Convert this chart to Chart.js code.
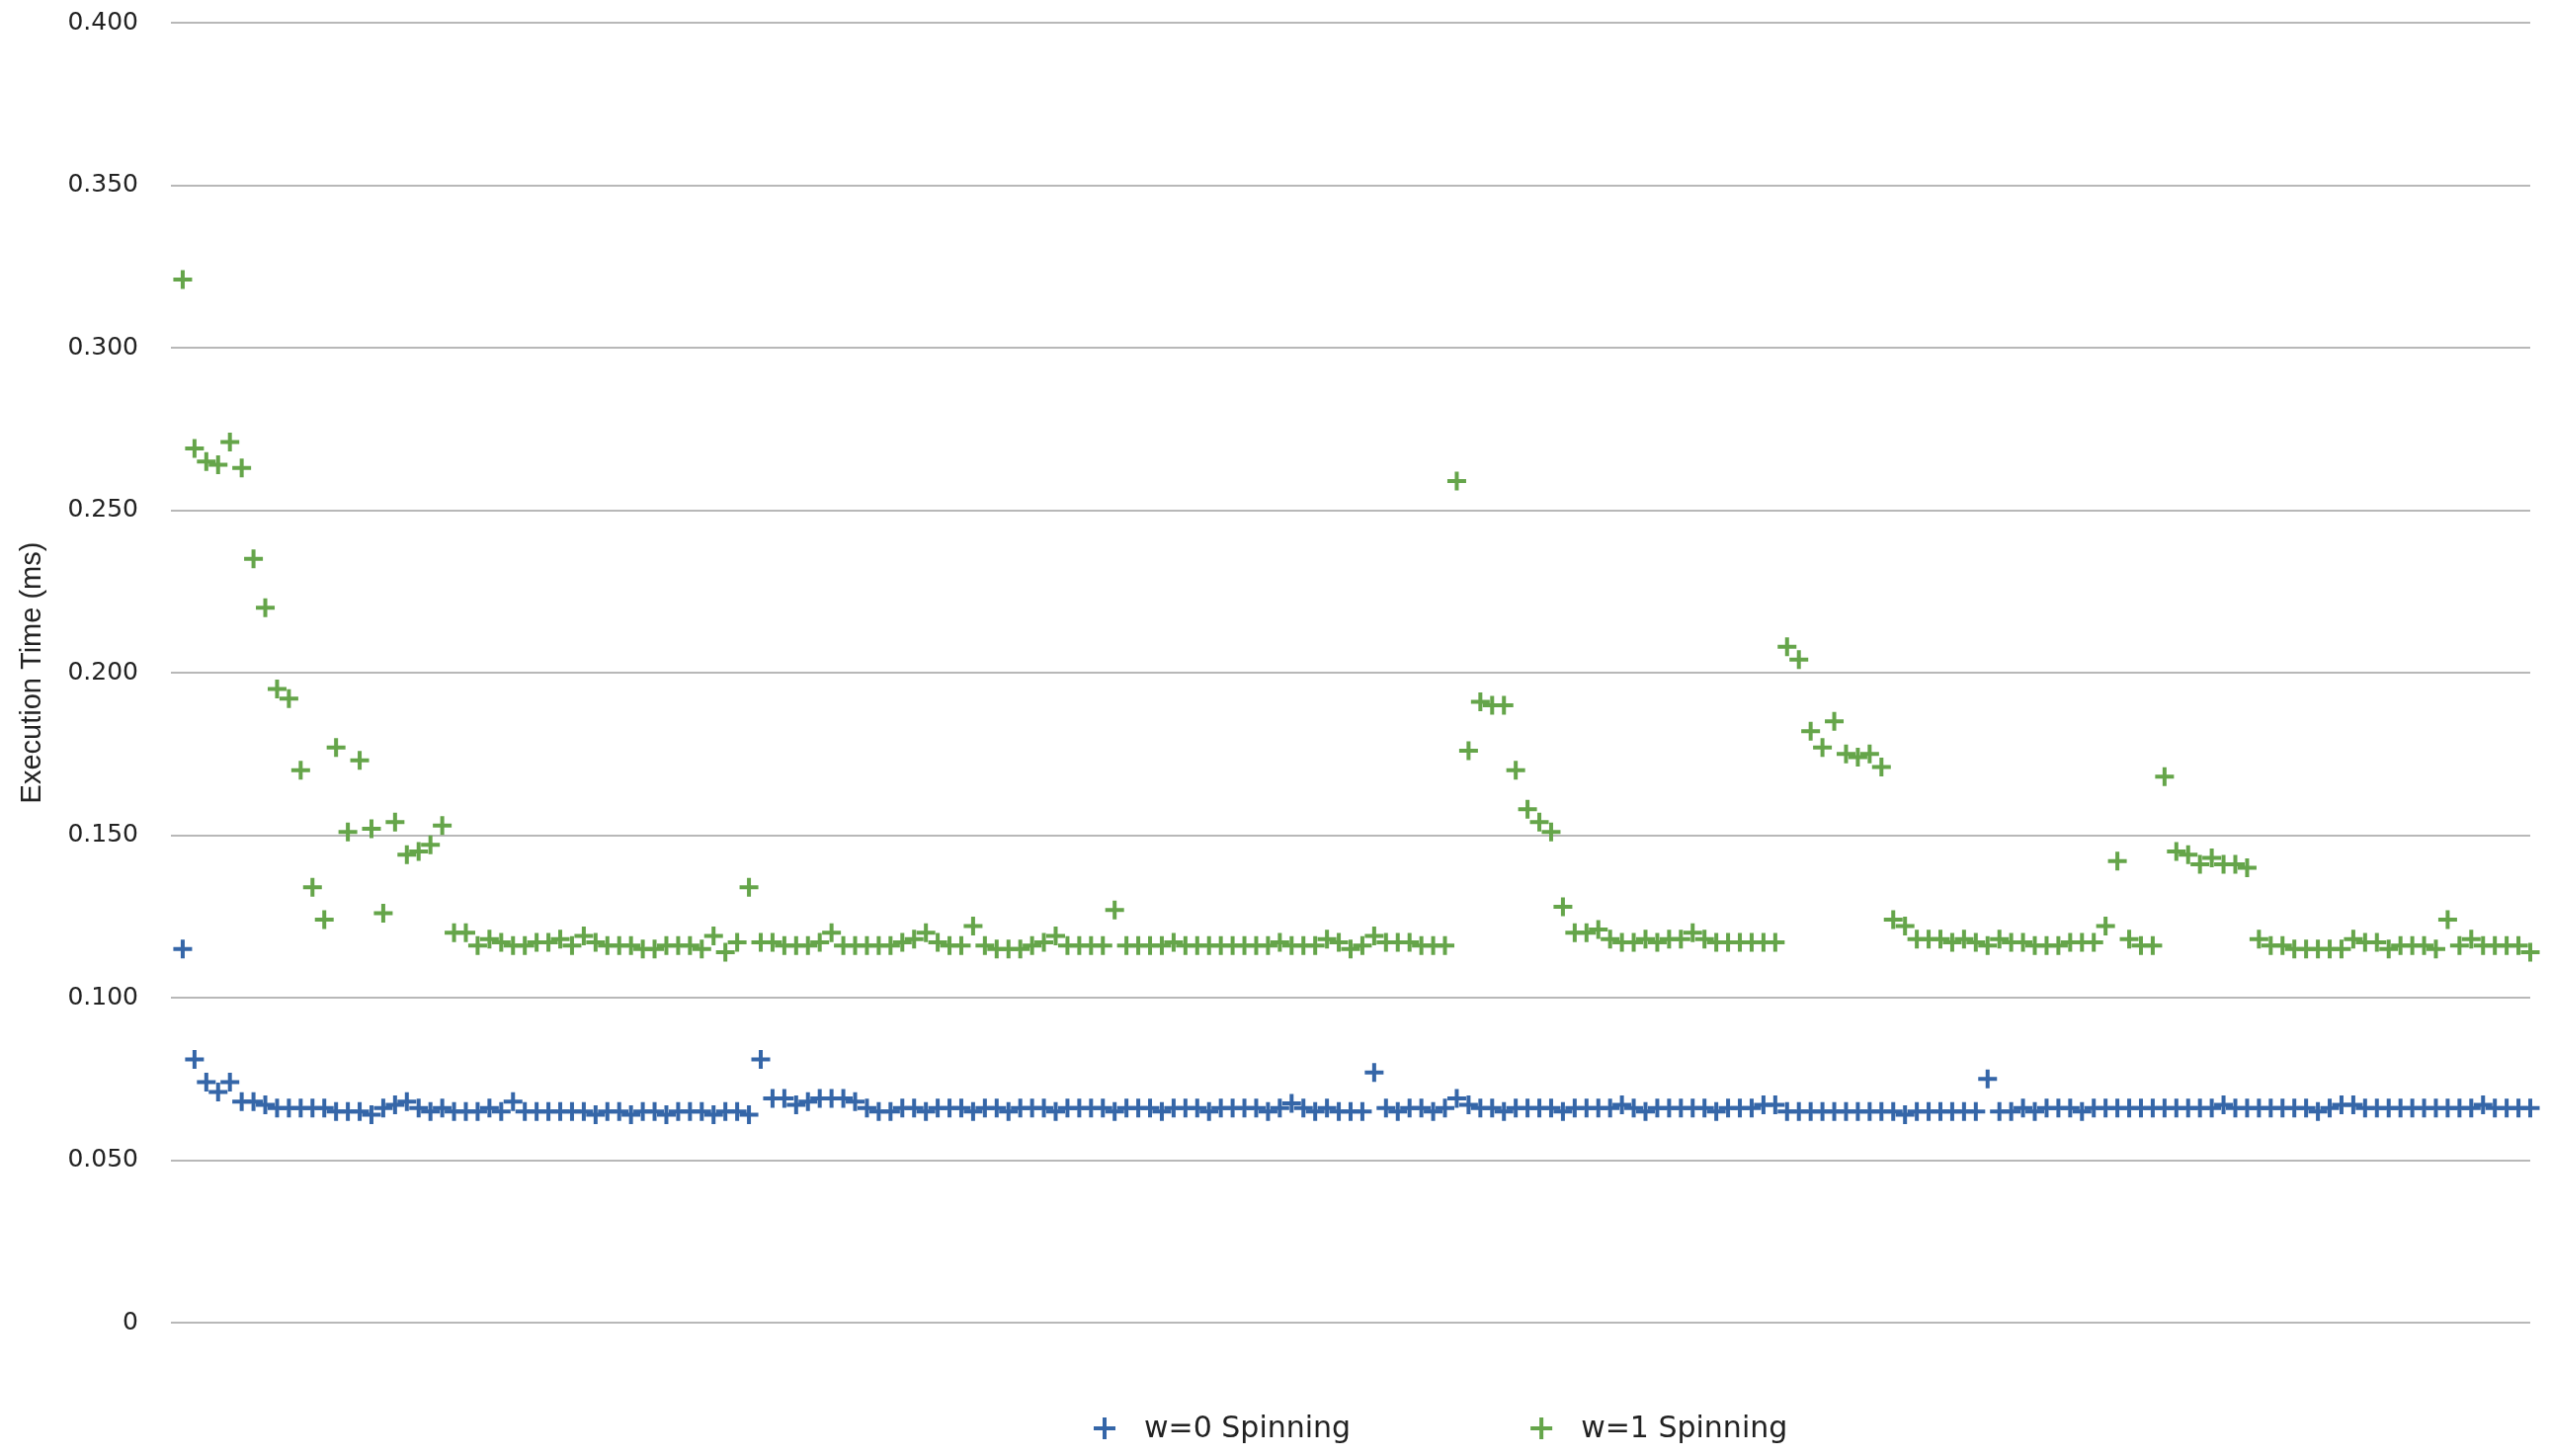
<!DOCTYPE html>
<html lang="en">
<head>
  <meta charset="UTF-8" />
  <title>Execution Time - Spinning</title>
  <style>
    html, body { margin: 0; padding: 0; background: #fff; }
    .chart-box { width: 2582px; height: 1474px; position: relative; }
  </style>
  <script src="https://cdn.jsdelivr.net/npm/chart.js"></script>
</head>
<body>
  <div class="chart-box">
    <canvas id="spinChart"></canvas>
  </div>

  <script>
    // values, one per run (200 runs)
    const w0Spinning = [
      0.115, 0.081, 0.074, 0.071, 0.074, 0.068, 0.068, 0.067, 0.066, 0.066,
      0.066, 0.066, 0.066, 0.065, 0.065, 0.065, 0.064, 0.066, 0.067, 0.068,
      0.066, 0.065, 0.066, 0.065, 0.065, 0.065, 0.066, 0.065, 0.068, 0.065,
      0.065, 0.065, 0.065, 0.065, 0.065, 0.064, 0.065, 0.065, 0.064, 0.065,
      0.065, 0.064, 0.065, 0.065, 0.065, 0.064, 0.065, 0.065, 0.064, 0.081,
      0.069, 0.069, 0.067, 0.068, 0.069, 0.069, 0.069, 0.068, 0.066, 0.065,
      0.065, 0.066, 0.066, 0.065, 0.066, 0.066, 0.066, 0.065, 0.066, 0.066,
      0.065, 0.066, 0.066, 0.066, 0.065, 0.066, 0.066, 0.066, 0.066, 0.065,
      0.066, 0.066, 0.066, 0.065, 0.066, 0.066, 0.066, 0.065, 0.066, 0.066,
      0.066, 0.066, 0.065, 0.066, 0.0675, 0.066, 0.065, 0.066, 0.065, 0.065,
      0.065, 0.077, 0.066, 0.065, 0.066, 0.066, 0.065, 0.066, 0.069, 0.067,
      0.066, 0.066, 0.065, 0.066, 0.066, 0.066, 0.066, 0.065, 0.066, 0.066,
      0.066, 0.066, 0.067, 0.066, 0.065, 0.066, 0.066, 0.066, 0.066, 0.066,
      0.065, 0.066, 0.066, 0.066, 0.067, 0.067, 0.065, 0.065, 0.065, 0.065,
      0.065, 0.065, 0.065, 0.065, 0.065, 0.065, 0.064, 0.065, 0.065, 0.065,
      0.065, 0.065, 0.065, 0.075, 0.065, 0.065, 0.066, 0.065, 0.066, 0.066,
      0.066, 0.065, 0.066, 0.066, 0.066, 0.066, 0.066, 0.066, 0.066, 0.066,
      0.066, 0.066, 0.066, 0.067, 0.066, 0.066, 0.066, 0.066, 0.066, 0.066,
      0.066, 0.065, 0.066, 0.067, 0.067, 0.066, 0.066, 0.066, 0.066, 0.066,
      0.066, 0.066, 0.066, 0.066, 0.066, 0.067, 0.066, 0.066, 0.066, 0.066
    ];

    const w1Spinning = [
      0.321, 0.269, 0.265, 0.264, 0.271, 0.263, 0.235, 0.220, 0.195, 0.192,
      0.170, 0.134, 0.124, 0.177, 0.151, 0.173, 0.152, 0.126, 0.154, 0.144,
      0.145, 0.147, 0.153, 0.120, 0.120, 0.116, 0.118, 0.117, 0.116, 0.116,
      0.117, 0.117, 0.118, 0.116, 0.119, 0.117, 0.116, 0.116, 0.116, 0.115,
      0.115, 0.116, 0.116, 0.116, 0.115, 0.119, 0.114, 0.117, 0.134, 0.117,
      0.117, 0.116, 0.116, 0.116, 0.117, 0.120, 0.116, 0.116, 0.116, 0.116,
      0.116, 0.117, 0.118, 0.120, 0.117, 0.116, 0.116, 0.122, 0.116, 0.115,
      0.115, 0.115, 0.116, 0.117, 0.119, 0.116, 0.116, 0.116, 0.116, 0.127,
      0.116, 0.116, 0.116, 0.116, 0.117, 0.116, 0.116, 0.116, 0.116, 0.116,
      0.116, 0.116, 0.116, 0.117, 0.116, 0.116, 0.116, 0.118, 0.117, 0.115,
      0.116, 0.119, 0.117, 0.117, 0.117, 0.116, 0.116, 0.116, 0.259, 0.176,
      0.191, 0.190, 0.190, 0.170, 0.158, 0.154, 0.151, 0.128, 0.120, 0.120,
      0.121, 0.118, 0.117, 0.117, 0.118, 0.117, 0.118, 0.118, 0.120, 0.118,
      0.117, 0.117, 0.117, 0.117, 0.117, 0.117, 0.208, 0.204, 0.182, 0.177,
      0.185, 0.175, 0.174, 0.175, 0.171, 0.124, 0.122, 0.118, 0.118, 0.118,
      0.117, 0.118, 0.117, 0.116, 0.118, 0.117, 0.117, 0.116, 0.116, 0.116,
      0.117, 0.117, 0.117, 0.122, 0.142, 0.118, 0.116, 0.116, 0.168, 0.145,
      0.144, 0.141, 0.143, 0.141, 0.141, 0.140, 0.118, 0.116, 0.116, 0.115,
      0.115, 0.115, 0.115, 0.115, 0.118, 0.117, 0.117, 0.115, 0.116, 0.116,
      0.116, 0.115, 0.124, 0.116, 0.118, 0.116, 0.116, 0.116, 0.116, 0.114
    ];

    const runs = w0Spinning.map((_, i) => i + 1);
    const yTickLabels = ['0', '0.050', '0.100', '0.150', '0.200', '0.250', '0.300', '0.350', '0.400'];
    const seriesNames = ['w=0 Spinning', 'w=1 Spinning'];
    const seriesColors = ['#3566a8', '#65a54a'];

    const toPoints = vals => vals.map((v, i) => ({ x: runs[i], y: v }));

    // legend below the plot, spaced like the original
    const bottomLegend = {
      id: 'bottomLegend',
      afterDraw(chart) {
        const ctx = chart.ctx;
        const y = 1446;
        let x = 1118;
        ctx.save();
        ctx.font = '30px "DejaVu Sans"';
        ctx.textBaseline = 'middle';
        chart.data.datasets.forEach(ds => {
          ctx.strokeStyle = ds.borderColor;
          ctx.lineWidth = 4;
          ctx.beginPath();
          ctx.moveTo(x - 11, y);
          ctx.lineTo(x + 11, y);
          ctx.moveTo(x, y - 11);
          ctx.lineTo(x, y + 11);
          ctx.stroke();
          ctx.fillStyle = '#222';
          ctx.fillText(ds.label, x + 40, y + 1);
          x += 40 + ctx.measureText(ds.label).width + 193;
        });
        ctx.restore();
      }
    };

    const ctx = document.getElementById('spinChart').getContext('2d');
    new Chart(ctx, {
      type: 'scatter',
      data: {
        datasets: [
          {
            label: seriesNames[0],
            data: toPoints(w0Spinning),
            borderColor: seriesColors[0],
            backgroundColor: seriesColors[0],
            pointStyle: 'cross',
            pointRadius: 9.5,
            pointBorderWidth: 4,
            clip: false
          },
          {
            label: seriesNames[1],
            data: toPoints(w1Spinning),
            borderColor: seriesColors[1],
            backgroundColor: seriesColors[1],
            pointStyle: 'cross',
            pointRadius: 9.5,
            pointBorderWidth: 4,
            clip: false
          }
        ]
      },
      options: {
        responsive: true,
        maintainAspectRatio: false,
        animation: false,
        layout: { padding: { top: 0, right: 21, bottom: 135, left: 0 } },
        plugins: {
          legend: { display: false },
          tooltip: { enabled: false }
        },
        scales: {
          x: {
            type: 'linear',
            min: 0,
            max: 200,
            display: false
          },
          y: {
            min: 0,
            max: 0.4,
            afterFit: scale => { scale.width = 173; },
            border: { display: false },
            grid: {
              color: '#b8b8b8',
              lineWidth: 2,
              drawTicks: true,
              tickLength: 25,
              tickColor: 'rgba(0,0,0,0)'
            },
            ticks: {
              stepSize: 0.05,
              padding: 8,
              color: '#222',
              font: { family: 'DejaVu Sans', size: 25 },
              callback: (value, index) => yTickLabels[index]
            },
            title: {
              display: true,
              text: 'Execution Time (ms)',
              color: '#222',
              font: { family: 'Liberation Sans', size: 29 },
              padding: { top: 16, bottom: 0 }
            }
          }
        }
      },
      plugins: [bottomLegend]
    });
  </script>
</body>
</html>
